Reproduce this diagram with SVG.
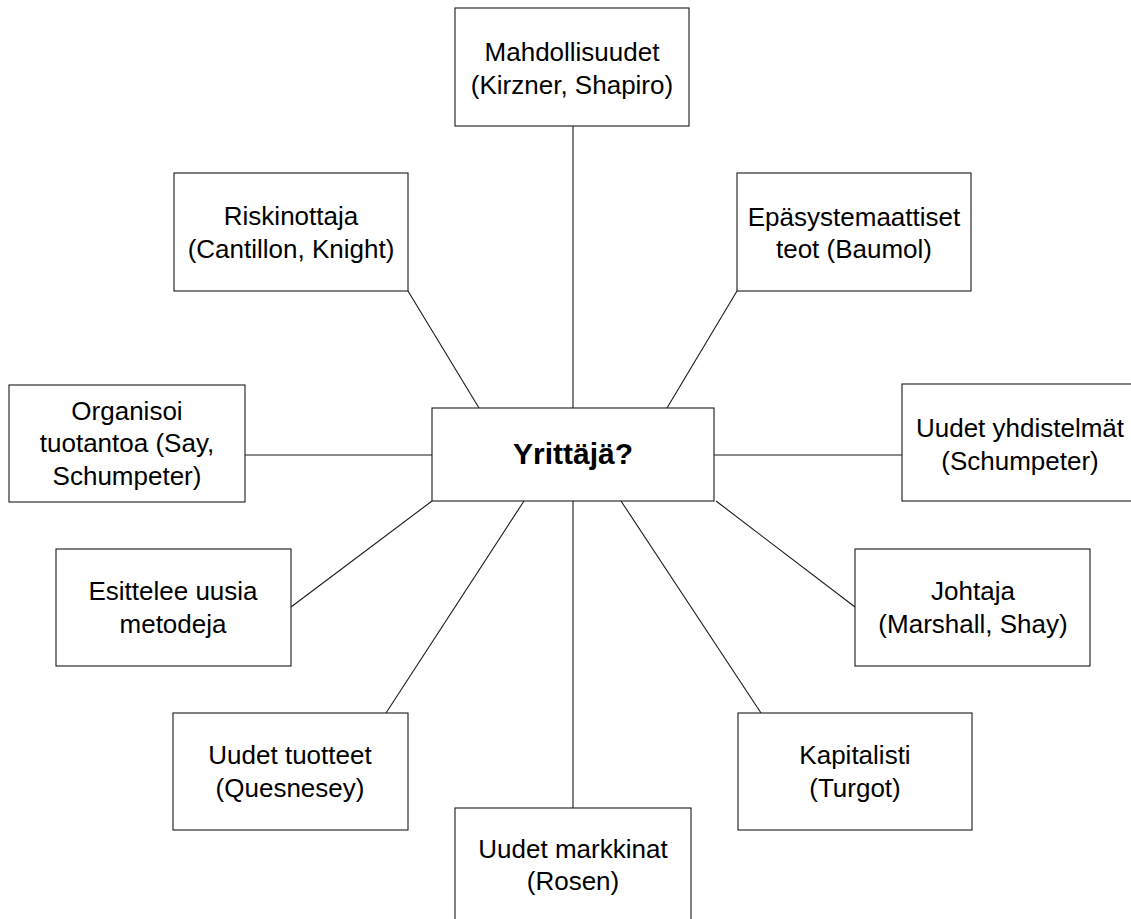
<svg xmlns="http://www.w3.org/2000/svg" width="1131" height="919" viewBox="0 0 1131 919">
  <style>
    .box { fill: #ffffff; stroke: #1a1a1a; stroke-width: 1.1; }
    .lbl { font-family: "Liberation Sans", Arial, sans-serif; font-size: 26px; fill: #000000; text-anchor: middle; }
    .hub { font-family: "Liberation Sans", Arial, sans-serif; font-size: 30px; font-weight: bold; fill: #000000; text-anchor: middle; }
    .link { stroke: #1a1a1a; stroke-width: 1.1; fill: none; }
  </style>
  <rect width="1131" height="919" fill="#ffffff"/>

  <!-- spokes from the central box -->
  <g id="connectors">
    <line class="link" x1="573" y1="126" x2="573" y2="408"/>
    <line class="link" x1="408" y1="291" x2="479" y2="408"/>
    <line class="link" x1="737" y1="291" x2="667" y2="408"/>
    <line class="link" x1="245" y1="455" x2="432" y2="455"/>
    <line class="link" x1="714" y1="455" x2="902" y2="455"/>
    <line class="link" x1="432" y1="501" x2="291" y2="607"/>
    <line class="link" x1="524" y1="501" x2="386" y2="713"/>
    <line class="link" x1="573" y1="501" x2="573" y2="808"/>
    <line class="link" x1="621" y1="501" x2="761" y2="713"/>
    <line class="link" x1="716" y1="501" x2="855" y2="607"/>
  </g>

  <g id="center">
    <rect class="box" x="432" y="408" width="282" height="93"/>
    <text class="hub" x="573" y="464">Yrittäjä?</text>
  </g>

  <g id="mahdollisuudet">
    <rect class="box" x="455" y="8" width="234" height="118"/>
    <text class="lbl" x="572" y="61">Mahdollisuudet</text>
    <text class="lbl" x="572" y="94">(Kirzner, Shapiro)</text>
  </g>

  <g id="riskinottaja">
    <rect class="box" x="174" y="173" width="234" height="118"/>
    <text class="lbl" x="291" y="225">Riskinottaja</text>
    <text class="lbl" x="291" y="258">(Cantillon, Knight)</text>
  </g>

  <g id="epasystemaattiset">
    <rect class="box" x="737" y="173" width="234" height="118"/>
    <text class="lbl" x="854" y="226">Epäsystemaattiset</text>
    <text class="lbl" x="854" y="258">teot (Baumol)</text>
  </g>

  <g id="organisoi">
    <rect class="box" x="9" y="385" width="236" height="117"/>
    <text class="lbl" x="127" y="420">Organisoi</text>
    <text class="lbl" x="127" y="452">tuotantoa (Say,</text>
    <text class="lbl" x="127" y="485">Schumpeter)</text>
  </g>

  <g id="yhdistelmat">
    <rect class="box" x="902" y="384" width="235" height="117"/>
    <text class="lbl" x="1020" y="437">Uudet yhdistelmät</text>
    <text class="lbl" x="1020" y="470">(Schumpeter)</text>
  </g>

  <g id="esittelee">
    <rect class="box" x="56" y="549" width="235" height="117"/>
    <text class="lbl" x="173" y="600">Esittelee uusia</text>
    <text class="lbl" x="173" y="633">metodeja</text>
  </g>

  <g id="johtaja">
    <rect class="box" x="855" y="549" width="235" height="117"/>
    <text class="lbl" x="973" y="600">Johtaja</text>
    <text class="lbl" x="973" y="633">(Marshall, Shay)</text>
  </g>

  <g id="tuotteet">
    <rect class="box" x="173" y="713" width="235" height="117"/>
    <text class="lbl" x="290" y="764">Uudet tuotteet</text>
    <text class="lbl" x="290" y="797">(Quesnesey)</text>
  </g>

  <g id="kapitalisti">
    <rect class="box" x="738" y="713" width="234" height="117"/>
    <text class="lbl" x="855" y="764">Kapitalisti</text>
    <text class="lbl" x="855" y="797">(Turgot)</text>
  </g>

  <g id="markkinat">
    <rect class="box" x="455" y="808" width="236" height="130"/>
    <text class="lbl" x="573" y="858">Uudet markkinat</text>
    <text class="lbl" x="573" y="890">(Rosen)</text>
  </g>
</svg>
